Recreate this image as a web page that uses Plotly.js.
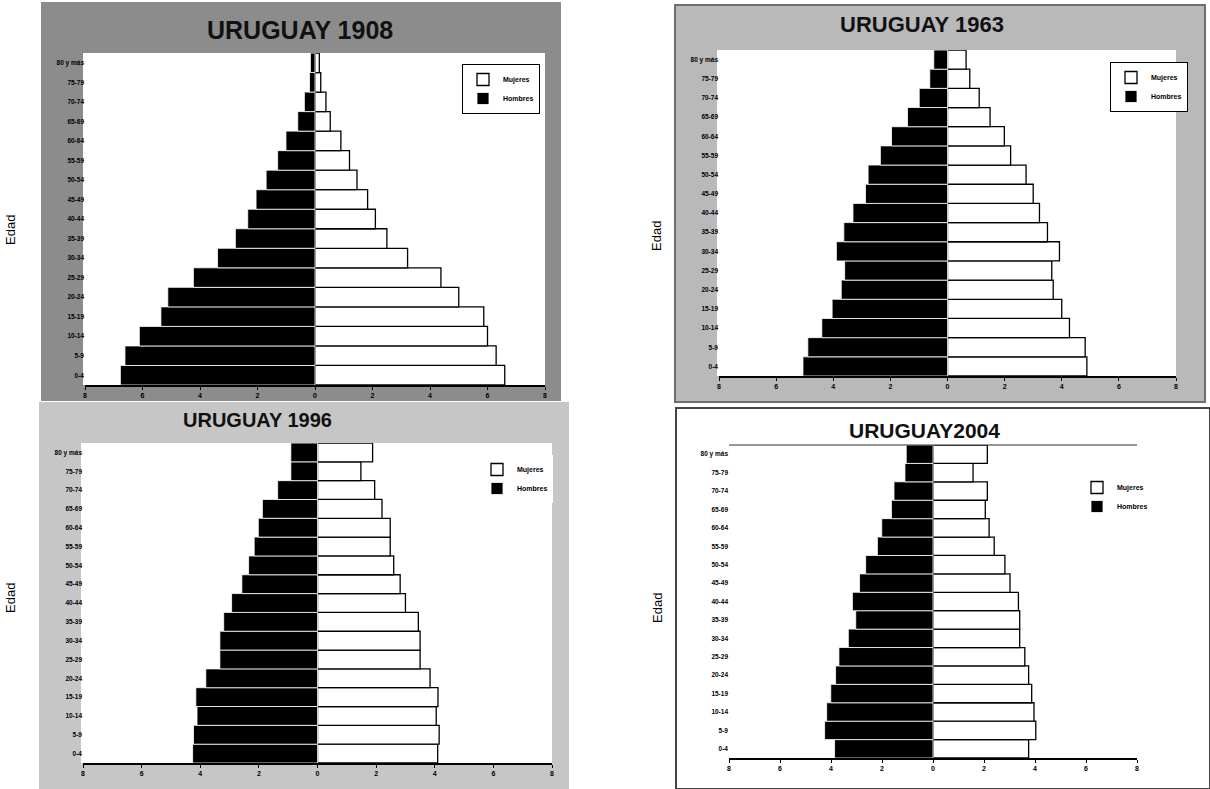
<!DOCTYPE html>
<html>
<head>
<meta charset="utf-8">
<script src="https://cdn.plot.ly/plotly-3.0.1.min.js"></script>
<style>html,body{margin:0;padding:0;background:#fff;}#chart{width:1210px;height:789px;}</style>
</head>
<body>
<div id="chart"></div>
<script>
const ages = ['0-4','5-9','10-14','15-19','20-24','25-29','30-34','35-39','40-44','45-49','50-54','55-59','60-64','65-69','70-74','75-79','80 y más'];
const xTickVals = [-8,-6,-4,-2,0,2,4,6,8];
const xTickText = ['8','6','4','2','0','2','4','6','8'];

const hombres1908 = [6.77,6.61,6.11,5.36,5.12,4.23,3.39,2.77,2.34,2.05,1.70,1.30,1.01,0.60,0.37,0.19,0.16];
const mujeres1908 = [6.6,6.3,6.0,5.87,5.0,4.38,3.22,2.5,2.1,1.83,1.46,1.2,0.9,0.53,0.38,0.2,0.15];

const hombres1963 = [5.06,4.89,4.40,4.04,3.72,3.60,3.89,3.63,3.31,2.87,2.78,2.35,1.96,1.40,0.99,0.62,0.48];
const mujeres1963 = [4.88,4.82,4.27,4.0,3.7,3.65,3.92,3.5,3.22,3.0,2.75,2.21,1.99,1.49,1.11,0.78,0.65];

const hombres1996 = [4.26,4.23,4.11,4.15,3.81,3.33,3.33,3.20,2.93,2.58,2.35,2.16,2.02,1.88,1.36,0.91,0.91];
const mujeres1996 = [4.1,4.15,4.05,4.11,3.84,3.5,3.5,3.44,3.0,2.82,2.6,2.48,2.48,2.2,1.95,1.48,1.88];

const hombres2004 = [3.86,4.25,4.17,4.01,3.82,3.69,3.32,3.03,3.16,2.88,2.64,2.18,2.01,1.63,1.53,1.10,1.05];
const mujeres2004 = [3.75,4.03,3.96,3.87,3.75,3.6,3.4,3.4,3.35,3.02,2.82,2.4,2.2,2.05,2.13,1.57,2.13];

const labelMujeres = 'Mujeres';
const labelHombres = 'Hombres';

const W = 1210, H = 789;
const px = v => v / W;
const py = v => 1 - v / H;

const panels = [
  {title:'URUGUAY 1908', h:hombres1908, m:mujeres1908, ax:'', box:[42,3,560,400], fill:'#8c8c8c', border:'#8c8c8c',
   plot:[85,53,545,385], tx:300, ty:30, tsize:25, leg:[462,64]},
  {title:'URUGUAY 1963', h:hombres1963, m:mujeres1963, ax:'2', box:[675,5,1205,402], fill:'#b9b9b9', border:'#6e6e6e',
   plot:[719,50,1176,376], tx:922, ty:24, tsize:22, leg:[1110,62]},
  {title:'URUGUAY 1996', h:hombres1996, m:mujeres1996, ax:'3', box:[40,403,568,789], fill:'#c6c6c6', border:'#c6c6c6',
   plot:[83,443,552,763], tx:257, ty:420, tsize:20, leg:[477,455]},
  {title:'URUGUAY2004', h:hombres2004, m:mujeres2004, ax:'4', box:[676,408,1210,789], fill:'#ffffff', border:'#444444',
   plot:[729,445,1137,758], tx:924, ty:430, tsize:21, leg:[1077,473]}
];

const traces = [];
const layout = {
  width: W, height: H,
  margin: {l:0, r:0, t:0, b:0},
  paper_bgcolor: '#ffffff',
  plot_bgcolor: 'rgba(0,0,0,0)',
  barmode: 'overlay',
  bargap: 0,
  shapes: [],
  annotations: [],
  font: {family: 'Liberation Sans, Arial, sans-serif', color: '#000'}
};

panels.forEach((p, i) => {
  const xa = 'x' + p.ax, ya = 'y' + p.ax;
  const legName = i === 0 ? 'legend' : 'legend' + (i + 1);
  traces.push({
    type:'bar', orientation:'h', name: labelMujeres, y: ages, x: p.m,
    xaxis: xa, yaxis: ya, legend: legName,
    marker:{color:'#ffffff', line:{color:'#000000', width:1.3}},
    hoverinfo:'skip'
  });
  traces.push({
    type:'bar', orientation:'h', name: labelHombres, y: ages, x: p.h.map(v => -v),
    xaxis: xa, yaxis: ya, legend: legName,
    marker:{color:'#000000', line:{color:'#ffffff', width:0.8}},
    hoverinfo:'skip'
  });
  layout['xaxis' + p.ax] = {
    domain:[px(p.plot[0]), px(p.plot[2])], anchor: ya, range:[-8,8],
    tickvals: xTickVals, ticktext: xTickText, showgrid:false, zeroline:false,
    showline:true, linecolor:'#000', linewidth:1.5, ticks:'outside', ticklen:3, tickcolor:'#000',
    tickfont:{size:7, weight:'bold', color:'#000'}, fixedrange:true
  };
  layout['yaxis' + p.ax] = {
    domain:[py(p.plot[3]), py(p.plot[1])], anchor: xa, type:'category',
    categoryorder:'array', categoryarray: ages, showgrid:false, zeroline:false,
    showline:false, ticks:'', tickfont:{size:6.5, weight:'bold', color:'#000'}, fixedrange:true
  };
  layout[legName] = {
    x: px(p.leg[0]), y: py(p.leg[1]), xanchor:'left', yanchor:'top',
    bgcolor:'#ffffff', bordercolor:'#000', borderwidth: (i < 2 ? 1 : 0),
    font:{size:7, weight:'bold'}, tracegroupgap:0, itemwidth:30, traceorder:'normal'
  };
  layout.shapes.push({type:'rect', xref:'paper', yref:'paper', layer:'below',
    x0:px(p.box[0]), x1:px(p.box[2]), y0:py(p.box[3]), y1:py(p.box[1]),
    fillcolor:p.fill, line:{color:p.border, width:2}});
  layout.shapes.push({type:'rect', xref:'paper', yref:'paper', layer:'below',
    x0:px(p.plot[0]-2), x1:px(p.plot[2]), y0:py(p.plot[3]), y1:py(p.plot[1]),
    fillcolor:'#ffffff', line:{width:0}});
  layout.annotations.push({xref:'paper', yref:'paper', x:px(p.tx), y:py(p.ty),
    text:'<b>' + p.title + '</b>', showarrow:false, xanchor:'center', yanchor:'middle',
    font:{size:p.tsize, color:'#111', family:'Liberation Sans, Arial, sans-serif'}});
});

// top line in 2004 panel
layout.shapes.push({type:'line', xref:'paper', yref:'paper', x0:px(729), x1:px(1137), y0:py(445), y1:py(445),
  line:{color:'#333', width:1}});

[[10,230],[10,598],[657,236],[657,608]].forEach(pt => {
  layout.annotations.push({xref:'paper', yref:'paper', x:px(pt[0]), y:py(pt[1]), text:'Edad',
    showarrow:false, textangle:-90, xanchor:'center', yanchor:'middle',
    font:{size:13, color:'#000', family:'Liberation Sans, Arial, sans-serif'}});
});

Plotly.newPlot('chart', traces, layout, {displayModeBar:false, staticPlot:true});
</script>
</body>
</html>
